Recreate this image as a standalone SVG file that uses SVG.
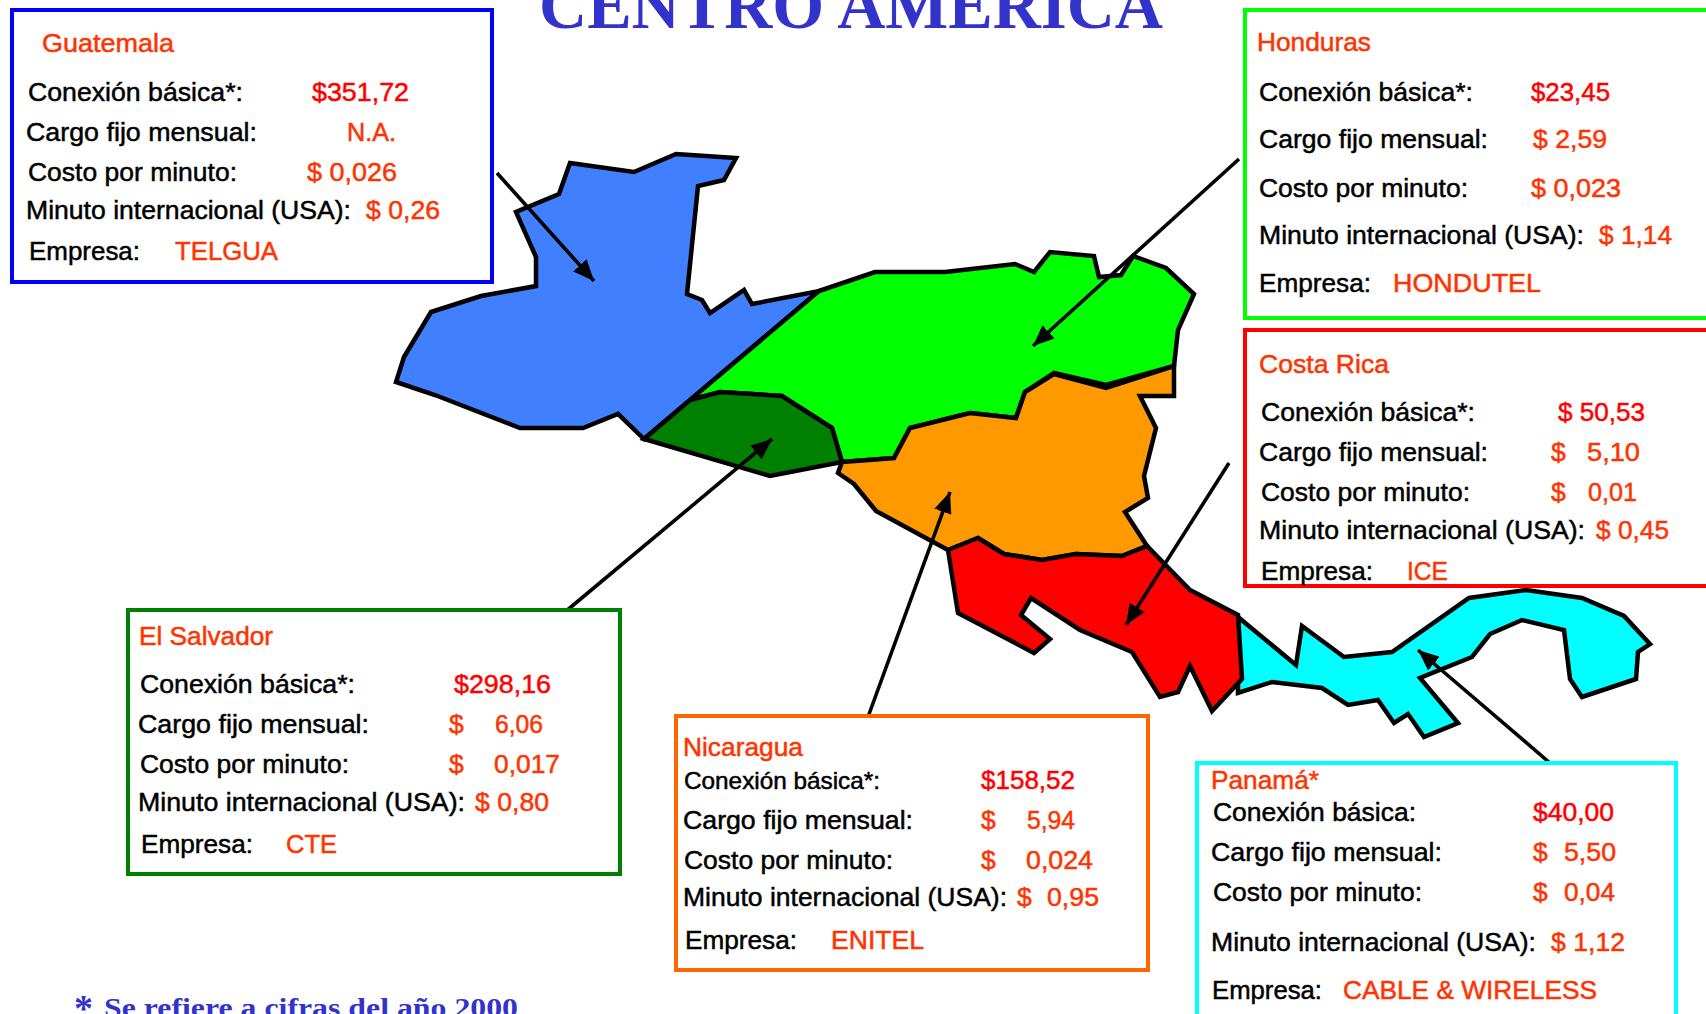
<svg xmlns="http://www.w3.org/2000/svg" width="1706" height="1014" viewBox="0 0 1706 1014">
<style>
text{font-family:"Liberation Sans",Arial,sans-serif;font-size:26.5px;stroke-width:.5px}
.k{fill:#000;stroke:#000}
.v{fill:#ff3300;stroke:#ff3300}
.r{fill:#ff0000;stroke:#ff0000}
.t{font-family:"Liberation Serif","Times New Roman",serif;font-weight:bold;fill:#3333cc;stroke:none}
.box{fill:#fff;stroke-width:4}
.map{stroke:#000;stroke-width:4.5;stroke-linejoin:miter}
.con{stroke:#000;stroke-width:3.6;fill:none;marker-end:url(#ah)}
</style>
<defs><marker id="ah" markerUnits="userSpaceOnUse" markerWidth="22" markerHeight="18" refX="21" refY="9" orient="auto"><path d="M0 0L21 9L0 18Z" fill="#000"/></marker></defs>
<rect width="1706" height="1014" fill="#fff"/>
<text class="t" x="539" y="28" textLength="624" lengthAdjust="spacingAndGlyphs" style="font-size:68px">CENTRO AMERICA</text>
<g id="mapa">
<polygon id="map-guatemala" class="map" fill="#4080ff" points="570,163 634,172 676,154 736,158 724,180 698,186 687,294 702,300 710,313 744,290 752,304 819,291 644,439 618,414 583,428 520,428 435,395 396,382 404,357 431,312 481,296 536,286 536,257 516,212 559,194"/>
<polygon id="map-honduras" class="map" fill="#00ff00" points="819,291 875,272 945,272 1015,264 1034,272 1050,252 1094,256 1099,277 1121,275 1133,256 1166,268 1194,294 1178,330 1174,366 1106,385 1054,373 1025,392 1016,418 970,413 910,428 894,458 842,462 832,428 782,396 720,392 690,400"/>
<polygon id="map-elsalvador" class="map" fill="#008000" points="644,439 690,400 720,392 782,396 832,428 842,462 770,476"/>
<polygon id="map-nicaragua" class="map" fill="#ff9900" points="842,462 894,458 910,428 970,413 1016,418 1025,392 1054,374 1106,388 1174,366 1174,396 1140,396 1156,428 1144,476 1148,498 1125,512 1147,546 1122,556 1076,554 1042,560 1004,554 978,538 948,550 876,511 854,484 838,473"/>
<polygon id="map-panama" class="map" fill="#00ffff" points="1238,617 1296,665 1302,626 1344,657 1392,652 1469,598 1526,590 1582,598 1624,616 1650,644 1638,652 1636,679 1582,697 1570,679 1564,630 1522,620 1490,634 1472,657 1420,678 1458,723 1424,737 1408,714 1394,723 1378,700 1348,705 1322,688 1272,682 1238,693"/>
<polygon id="map-costarica" class="map" fill="#ff0000" points="948,550 978,538 1004,554 1042,560 1076,554 1122,556 1147,546 1190,590 1238,615 1242,679 1212,711 1190,666 1178,692 1160,697 1132,652 1080,630 1031,598 1021,615 1050,639 1034,653 958,613"/>
</g>
<g id="conectores">
<line class="con" x1="497" y1="173" x2="594" y2="281"/>
<line class="con" x1="1239" y1="159" x2="1033" y2="346"/>
<line class="con" x1="565" y1="612" x2="772" y2="439"/>
<line class="con" x1="868" y1="717" x2="950" y2="492"/>
<line class="con" x1="1229" y1="463" x2="1126" y2="625"/>
<line class="con" x1="1550" y1="763" x2="1418" y2="650"/>
</g>
<g id="guatemala">
<rect class="box" stroke="#0000ff" x="12" y="10" width="480" height="272"/>
<text class="v" x="42" y="52" textLength="132" lengthAdjust="spacingAndGlyphs">Guatemala</text>
<text class="k" x="28" y="101" textLength="215" lengthAdjust="spacingAndGlyphs">Conexión básica*:</text>
<text class="r" x="312" y="101" textLength="97" lengthAdjust="spacingAndGlyphs">$351,72</text>
<text class="k" x="26" y="141" textLength="231" lengthAdjust="spacingAndGlyphs">Cargo fijo mensual:</text>
<text class="v" x="347" y="141" textLength="49" lengthAdjust="spacingAndGlyphs">N.A.</text>
<text class="k" x="28" y="181" textLength="209" lengthAdjust="spacingAndGlyphs">Costo por minuto:</text>
<text class="v" x="307" y="181" textLength="90" lengthAdjust="spacingAndGlyphs">$ 0,026</text>
<text class="k" x="26" y="219" textLength="325" lengthAdjust="spacingAndGlyphs">Minuto internacional (USA):</text>
<text class="v" x="366" y="219" textLength="74" lengthAdjust="spacingAndGlyphs">$ 0,26</text>
<text class="k" x="29" y="260" textLength="111" lengthAdjust="spacingAndGlyphs">Empresa:</text>
<text class="v" x="175" y="260" textLength="103" lengthAdjust="spacingAndGlyphs">TELGUA</text>
</g>
<g id="honduras">
<rect class="box" stroke="#00ff00" x="1245" y="10" width="480" height="308"/>
<text class="v" x="1257" y="51" textLength="114" lengthAdjust="spacingAndGlyphs">Honduras</text>
<text class="k" x="1259" y="101" textLength="214" lengthAdjust="spacingAndGlyphs">Conexión básica*:</text>
<text class="r" x="1531" y="101" textLength="79" lengthAdjust="spacingAndGlyphs">$23,45</text>
<text class="k" x="1259" y="148" textLength="229" lengthAdjust="spacingAndGlyphs">Cargo fijo mensual:</text>
<text class="v" x="1533" y="148" textLength="74" lengthAdjust="spacingAndGlyphs">$ 2,59</text>
<text class="k" x="1259" y="197" textLength="209" lengthAdjust="spacingAndGlyphs">Costo por minuto:</text>
<text class="v" x="1531" y="197" textLength="90" lengthAdjust="spacingAndGlyphs">$ 0,023</text>
<text class="k" x="1259" y="244" textLength="325" lengthAdjust="spacingAndGlyphs">Minuto internacional (USA):</text>
<text class="v" x="1599" y="244" textLength="73" lengthAdjust="spacingAndGlyphs">$ 1,14</text>
<text class="k" x="1259" y="292" textLength="112" lengthAdjust="spacingAndGlyphs">Empresa:</text>
<text class="v" x="1393" y="292" textLength="148" lengthAdjust="spacingAndGlyphs">HONDUTEL</text>
</g>
<g id="costarica">
<rect class="box" stroke="#ff0000" x="1245" y="330" width="480" height="256"/>
<text class="v" x="1259" y="373" textLength="130" lengthAdjust="spacingAndGlyphs">Costa Rica</text>
<text class="k" x="1261" y="421" textLength="214" lengthAdjust="spacingAndGlyphs">Conexión básica*:</text>
<text class="r" x="1558" y="421" textLength="87" lengthAdjust="spacingAndGlyphs">$ 50,53</text>
<text class="k" x="1259" y="461" textLength="229" lengthAdjust="spacingAndGlyphs">Cargo fijo mensual:</text>
<text class="v" x="1551" y="461">$</text><text class="v" x="1587" y="461" textLength="53" lengthAdjust="spacingAndGlyphs">5,10</text>
<text class="k" x="1261" y="501" textLength="209" lengthAdjust="spacingAndGlyphs">Costo por minuto:</text>
<text class="v" x="1551" y="501">$</text><text class="v" x="1588" y="501" textLength="49" lengthAdjust="spacingAndGlyphs">0,01</text>
<text class="k" x="1259" y="539" textLength="326" lengthAdjust="spacingAndGlyphs">Minuto internacional (USA):</text>
<text class="v" x="1596" y="539" textLength="73" lengthAdjust="spacingAndGlyphs">$ 0,45</text>
<text class="k" x="1261" y="580" textLength="112" lengthAdjust="spacingAndGlyphs">Empresa:</text>
<text class="v" x="1407" y="580" textLength="41" lengthAdjust="spacingAndGlyphs">ICE</text>
</g>
<g id="elsalvador">
<rect class="box" stroke="#008000" x="128" y="610" width="492" height="264"/>
<text class="v" x="139" y="645" textLength="134" lengthAdjust="spacingAndGlyphs">El Salvador</text>
<text class="k" x="140" y="693" textLength="215" lengthAdjust="spacingAndGlyphs">Conexión básica*:</text>
<text class="r" x="454" y="693" textLength="97" lengthAdjust="spacingAndGlyphs">$298,16</text>
<text class="k" x="138" y="733" textLength="231" lengthAdjust="spacingAndGlyphs">Cargo fijo mensual:</text>
<text class="v" x="449" y="733">$</text><text class="v" x="495" y="733" textLength="48" lengthAdjust="spacingAndGlyphs">6,06</text>
<text class="k" x="140" y="773" textLength="209" lengthAdjust="spacingAndGlyphs">Costo por minuto:</text>
<text class="v" x="449" y="773">$</text><text class="v" x="494" y="773" textLength="66" lengthAdjust="spacingAndGlyphs">0,017</text>
<text class="k" x="138" y="811" textLength="327" lengthAdjust="spacingAndGlyphs">Minuto internacional (USA):</text>
<text class="v" x="475" y="811" textLength="74" lengthAdjust="spacingAndGlyphs">$ 0,80</text>
<text class="k" x="141" y="853" textLength="112" lengthAdjust="spacingAndGlyphs">Empresa:</text>
<text class="v" x="286" y="853" textLength="51" lengthAdjust="spacingAndGlyphs">CTE</text>
</g>
<g id="nicaragua">
<rect class="box" stroke="#ff6600" x="676" y="716" width="472" height="254"/>
<text class="v" x="683" y="756" textLength="120" lengthAdjust="spacingAndGlyphs">Nicaragua</text>
<text class="k" x="684" y="789" textLength="196" lengthAdjust="spacingAndGlyphs" style="font-size:24px">Conexión básica*:</text>
<text class="r" x="981" y="789" textLength="94" lengthAdjust="spacingAndGlyphs">$158,52</text>
<text class="k" x="683" y="829" textLength="230" lengthAdjust="spacingAndGlyphs">Cargo fijo mensual:</text>
<text class="v" x="981" y="829">$</text><text class="v" x="1027" y="829" textLength="48" lengthAdjust="spacingAndGlyphs">5,94</text>
<text class="k" x="684" y="869" textLength="209" lengthAdjust="spacingAndGlyphs">Costo por minuto:</text>
<text class="v" x="981" y="869">$</text><text class="v" x="1026" y="869" textLength="67" lengthAdjust="spacingAndGlyphs">0,024</text>
<text class="k" x="683" y="906" textLength="324" lengthAdjust="spacingAndGlyphs">Minuto internacional (USA):</text>
<text class="v" x="1017" y="906">$</text><text class="v" x="1047" y="906" textLength="52" lengthAdjust="spacingAndGlyphs">0,95</text>
<text class="k" x="685" y="949" textLength="112" lengthAdjust="spacingAndGlyphs">Empresa:</text>
<text class="v" x="831" y="949" textLength="93" lengthAdjust="spacingAndGlyphs">ENITEL</text>
</g>
<g id="panama">
<rect class="box" stroke="#00ffff" x="1197" y="763" width="479" height="280"/>
<text class="v" x="1211" y="789" textLength="108" lengthAdjust="spacingAndGlyphs">Panamá*</text>
<text class="k" x="1213" y="821" textLength="203" lengthAdjust="spacingAndGlyphs">Conexión básica:</text>
<text class="r" x="1533" y="821" textLength="81" lengthAdjust="spacingAndGlyphs">$40,00</text>
<text class="k" x="1211" y="861" textLength="231" lengthAdjust="spacingAndGlyphs">Cargo fijo mensual:</text>
<text class="v" x="1533" y="861">$</text><text class="v" x="1564" y="861" textLength="52" lengthAdjust="spacingAndGlyphs">5,50</text>
<text class="k" x="1213" y="901" textLength="209" lengthAdjust="spacingAndGlyphs">Costo por minuto:</text>
<text class="v" x="1533" y="901">$</text><text class="v" x="1564" y="901" textLength="51" lengthAdjust="spacingAndGlyphs">0,04</text>
<text class="k" x="1211" y="951" textLength="325" lengthAdjust="spacingAndGlyphs">Minuto internacional (USA):</text>
<text class="v" x="1551" y="951" textLength="74" lengthAdjust="spacingAndGlyphs">$ 1,12</text>
<text class="k" x="1212" y="999" textLength="110" lengthAdjust="spacingAndGlyphs">Empresa:</text>
<text class="v" x="1343" y="999" textLength="254" lengthAdjust="spacingAndGlyphs">CABLE &amp; WIRELESS</text>
</g>
<g id="nota">
<text class="t" x="74" y="1021" style="font-size:38px">*</text>
<text class="t" x="104" y="1017" textLength="414" lengthAdjust="spacingAndGlyphs" style="font-size:27px">Se refiere a cifras del año 2000</text>
</g>
</svg>
